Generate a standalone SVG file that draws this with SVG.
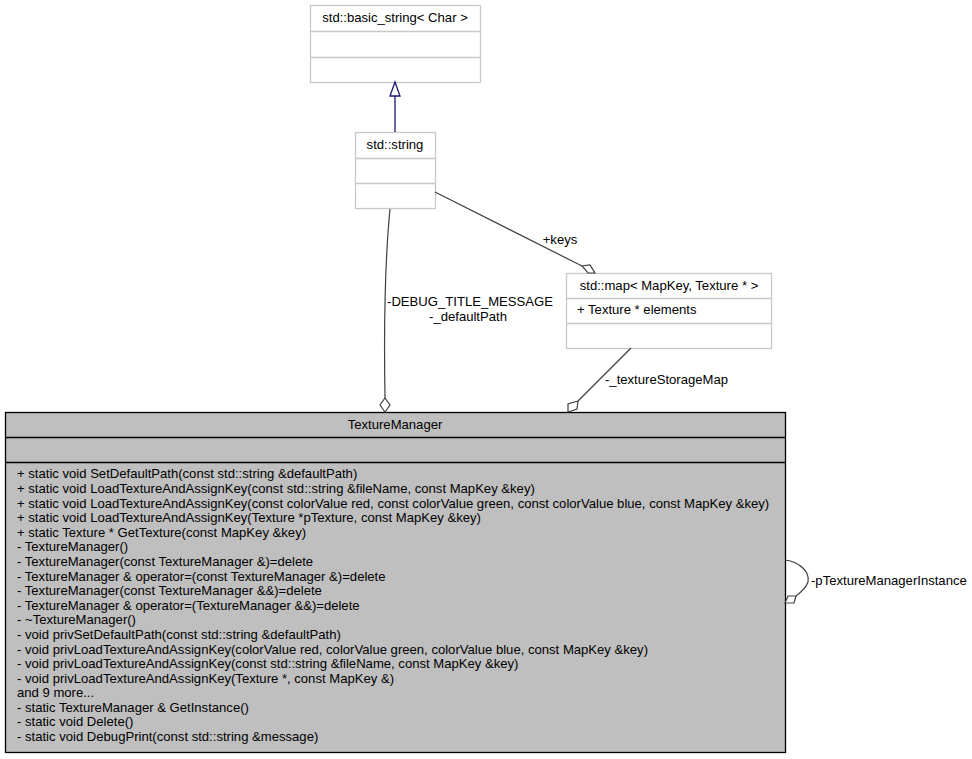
<svg xmlns="http://www.w3.org/2000/svg" width="972" height="759" viewBox="0 0 972 759">
<style>
text{font-family:"Liberation Sans",Arial,sans-serif;font-size:13.1px;fill:#000}
.box{fill:#fff;stroke:#c8c8c8;stroke-width:1.3}
.sep{stroke:#c8c8c8;stroke-width:1.3}
.main{fill:#bfbfbf;stroke:#000;stroke-width:1.3}
.msep{stroke:#000;stroke-width:1.3}
.edge{fill:none;stroke:#404040;stroke-width:1.2}
.dia{fill:#fff;stroke:#404040;stroke-width:1.2}
.mid{text-anchor:middle}
</style>
<rect width="972" height="759" fill="#fff"/>
<g id="node-basic_string">
<rect class="box" x="310.5" y="5.5" width="170" height="77"/>
<line class="sep" x1="310.5" y1="31.5" x2="480.5" y2="31.5"/>
<line class="sep" x1="310.5" y1="57.5" x2="480.5" y2="57.5"/>
<text class="mid" x="395" y="22">std::basic_string&lt; Char &gt;</text>
</g>
<g id="node-string">
<rect class="box" x="355.5" y="132.5" width="80" height="76"/>
<line class="sep" x1="355.5" y1="158.5" x2="435.5" y2="158.5"/>
<line class="sep" x1="355.5" y1="183.5" x2="435.5" y2="183.5"/>
<text class="mid" x="395" y="149">std::string</text>
</g>
<g id="node-map">
<rect class="box" x="566.5" y="273.5" width="205" height="75"/>
<line class="sep" x1="566.5" y1="298.5" x2="771.5" y2="298.5"/>
<line class="sep" x1="566.5" y1="323.5" x2="771.5" y2="323.5"/>
<text class="mid" x="669" y="290">std::map&lt; MapKey, Texture * &gt;</text>
<text x="577" y="314">+ Texture * elements</text>
</g>
<g id="node-TextureManager">
<rect class="main" x="5.5" y="412.5" width="780" height="340"/>
<line class="msep" x1="5.5" y1="437.5" x2="785.5" y2="437.5"/>
<line class="msep" x1="5.5" y1="462.5" x2="785.5" y2="462.5"/>
<text class="mid" x="395" y="429">TextureManager</text>
<text x="17" y="478">+ static void SetDefaultPath(const std::string &amp;defaultPath)</text>
<text x="17" y="493">+ static void LoadTextureAndAssignKey(const std::string &amp;fileName, const MapKey &amp;key)</text>
<text x="17" y="508">+ static void LoadTextureAndAssignKey(const colorValue red, const colorValue green, const colorValue blue, const MapKey &amp;key)</text>
<text x="17" y="522">+ static void LoadTextureAndAssignKey(Texture *pTexture, const MapKey &amp;key)</text>
<text x="17" y="537">+ static Texture * GetTexture(const MapKey &amp;key)</text>
<text x="17" y="551">- TextureManager()</text>
<text x="17" y="566">- TextureManager(const TextureManager &amp;)=delete</text>
<text x="17" y="581">- TextureManager &amp; operator=(const TextureManager &amp;)=delete</text>
<text x="17" y="595">- TextureManager(const TextureManager &amp;&amp;)=delete</text>
<text x="17" y="610">- TextureManager &amp; operator=(TextureManager &amp;&amp;)=delete</text>
<text x="17" y="624">- ~TextureManager()</text>
<text x="17" y="639">- void privSetDefaultPath(const std::string &amp;defaultPath)</text>
<text x="17" y="654">- void privLoadTextureAndAssignKey(colorValue red, colorValue green, colorValue blue, const MapKey &amp;key)</text>
<text x="17" y="668">- void privLoadTextureAndAssignKey(const std::string &amp;fileName, const MapKey &amp;key)</text>
<text x="17" y="683">- void privLoadTextureAndAssignKey(Texture *, const MapKey &amp;)</text>
<text x="17" y="697">and 9 more...</text>
<text x="17" y="712">- static TextureManager &amp; GetInstance()</text>
<text x="17" y="726">- static void Delete()</text>
<text x="17" y="741">- static void DebugPrint(const std::string &amp;message)</text>
</g>
<g id="connectors">
<line x1="395" y1="132" x2="395" y2="96" stroke="#191970" stroke-width="1.3"/>
<polygon points="395,82 390,96 400,96" fill="#fff" stroke="#191970" stroke-width="1.3"/>
<path class="edge" d="M390,209 C385,260 384,340 385,398"/>
<polygon class="dia" points="385,412 380,405 385,398 390,405"/>
<text class="mid" x="470" y="306">-DEBUG_TITLE_MESSAGE</text>
<text class="mid" x="468" y="321">-_defaultPath</text>
<path class="edge" d="M435,192 L582,266"/>
<polygon class="dia" points="595,273 588,273 582,266 590,265"/>
<text class="mid" x="560" y="244">+keys</text>
<path class="edge" d="M631,348 L578,401"/>
<polygon class="dia" points="568,412 568,404 578,401 577,409"/>
<text x="605" y="384">-_textureStorageMap</text>
<path class="edge" d="M785,560 C800,562 810,572 808,582 C806,588 800,593 796,596"/>
<polygon class="dia" points="785,603 788,596 796,596 794,603"/>
<text x="811" y="585">-pTextureManagerInstance</text>
</g>
</svg>
